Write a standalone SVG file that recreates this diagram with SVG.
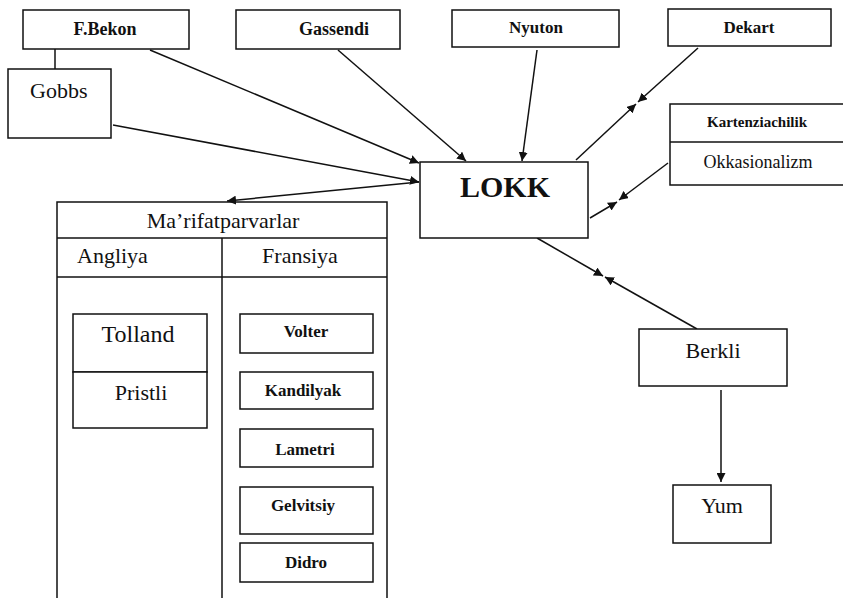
<svg xmlns="http://www.w3.org/2000/svg" width="843" height="598" viewBox="0 0 843 598">
<defs>
<marker id="ah" viewBox="0 0 10 10" refX="10" refY="5" markerWidth="9" markerHeight="9" markerUnits="userSpaceOnUse" orient="auto">
<path d="M0,0 L10,5 L0,10 z" fill="#111"/>
</marker>
</defs>
<style>
rect{fill:#fff;stroke:#111;stroke-width:1.5}
rect.bg{stroke:none}
line,path.c{stroke:#111;stroke-width:1.5;fill:none}
.e{marker-end:url(#ah)}
text{font-family:"Liberation Serif","Times New Roman",serif;fill:#111;text-anchor:middle}
.s{font-size:17px;font-weight:bold}
.m{font-size:22px}
.b{font-size:30px;font-weight:bold}
</style>
<rect class="bg" width="843" height="598"/>
<g id="connectors">
<line x1="55" y1="49" x2="55" y2="69"/>
<line class="e" x1="150" y1="50" x2="419" y2="163"/>
<line class="e" x1="113" y1="125" x2="419" y2="182"/>
<line class="e" x1="338" y1="50" x2="466" y2="161"/>
<line class="e" x1="537" y1="50" x2="522" y2="161"/>
<line class="e" x1="419" y1="182" x2="227" y2="201"/>
<line class="e" x1="698" y1="48" x2="638" y2="102"/>
<line class="e" x1="576" y1="160" x2="636" y2="104"/>
<line class="e" x1="668" y1="163" x2="619" y2="200"/>
<line class="e" x1="590" y1="218" x2="617" y2="202"/>
<line class="e" x1="537" y1="238" x2="603" y2="276"/>
<line class="e" x1="697" y1="329" x2="605" y2="277"/>
<line class="e" x1="721" y1="390" x2="721" y2="482"/>
</g>
<g id="fbekon"><rect x="23" y="10" width="166" height="39"/><text class="s" x="105" y="35" style="font-size:18px">F.Bekon</text></g>
<g id="gassendi"><rect x="236" y="10" width="164" height="39"/><text class="s" x="334" y="35" style="font-size:18px">Gassendi</text></g>
<g id="nyuton"><rect x="452" y="10" width="167" height="37"/><text class="s" x="536" y="33">Nyuton</text></g>
<g id="dekart"><rect x="668" y="9" width="163" height="37"/><text class="s" x="749" y="33">Dekart</text></g>
<g id="gobbs"><rect x="8" y="69" width="103" height="69"/><text class="m" x="30" y="98" style="text-anchor:start">Gobbs</text></g>
<g id="lokk"><rect x="420" y="162" width="168" height="76"/><text class="b" x="505" y="197">LOKK</text></g>
<g id="kartenziachilik"><rect x="670" y="104" width="180" height="81"/><line x1="670" y1="142" x2="843" y2="142"/><text class="s" x="757" y="127" style="font-size:15px">Kartenziachilik</text><text x="758" y="168" style="font-size:18px">Okkasionalizm</text></g>
<g id="berkli"><rect x="639" y="329" width="148" height="57"/><text class="m" x="713" y="358">Berkli</text></g>
<g id="yum"><rect x="673" y="485" width="98" height="58"/><text class="m" x="722" y="513">Yum</text></g>
<g id="marifatparvarlar">
<path class="c" d="M57,600 V202 H387 V600"/>
<line x1="57" y1="238" x2="387" y2="238"/>
<line x1="57" y1="277" x2="387" y2="277"/>
<line x1="222" y1="238" x2="222" y2="600"/>
<text class="m" x="223" y="228">Ma’rifatparvarlar</text>
<text class="m" x="77" y="263" style="text-anchor:start">Angliya</text>
<text class="m" x="300" y="263">Fransiya</text>
</g>
<g id="tolland"><rect x="73" y="314" width="134" height="58"/><text class="m" x="138" y="342" style="font-size:24px">Tolland</text></g>
<g id="pristli"><rect x="73" y="372" width="134" height="56"/><text class="m" x="141" y="400">Pristli</text></g>
<g id="volter"><rect x="240" y="314" width="133" height="39"/><text class="s" x="306" y="337">Volter</text></g>
<g id="kandilyak"><rect x="240" y="372" width="133" height="37"/><text class="s" x="303" y="396">Kandilyak</text></g>
<g id="lametri"><rect x="240" y="429" width="133" height="38"/><text class="s" x="305" y="455">Lametri</text></g>
<g id="gelvitsiy"><rect x="240" y="487" width="133" height="47"/><text class="s" x="303" y="511">Gelvitsiy</text></g>
<g id="didro"><rect x="240" y="543" width="133" height="39"/><text class="s" x="306" y="568">Didro</text></g>
</svg>
